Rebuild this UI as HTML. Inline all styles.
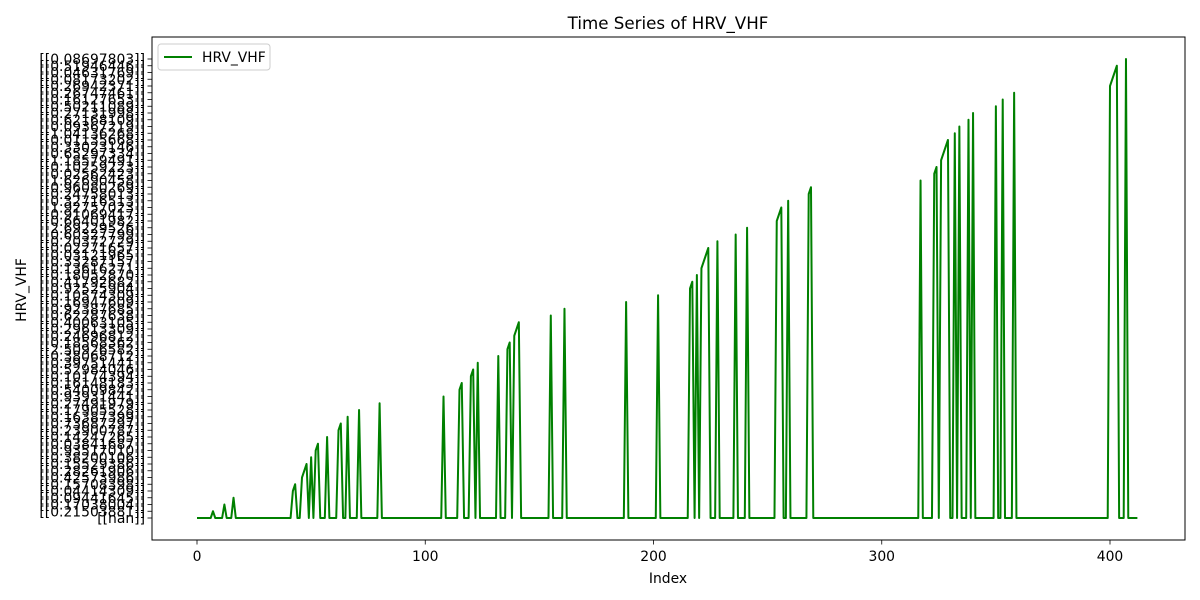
<!DOCTYPE html>
<html><head><meta charset="utf-8"><style>
html,body{margin:0;padding:0;background:#fff}
svg{display:block;font-family:"DejaVu Sans","Liberation Sans",sans-serif}
</style></head><body>
<svg id="chart" width="1200" height="600" viewBox="0 0 1200 600">
<rect x="0" y="0" width="1200" height="600" fill="#fff"/>
<text x="668" y="29" font-size="16.7" text-anchor="middle">Time Series of HRV_VHF</text>
<text x="668" y="583" font-size="13.9" text-anchor="middle">Index</text>
<text x="26" y="290" font-size="13.9" text-anchor="middle" transform="rotate(-90 26 290)">HRV_VHF</text>
<g id="yticks"></g>
<g id="xticks"></g>
<g id="series"></g>
<rect x="152" y="37" width="1033" height="503" fill="none" stroke="#000" stroke-width="1"/>
<g>
<rect x="158" y="44" width="112" height="26" rx="3" fill="#fff" stroke="#ccc"/>
<line x1="164" y1="57" x2="192" y2="57" stroke="#008000" stroke-width="2"/>
<text x="202" y="62" font-size="13.9">HRV_VHF</text>
</g>
</svg>
<script>
// indices where the series is non-NaN (in order; each is a new category level)
const validIndices = [7,12,16,42,43,46,47,48,50,52,53,57,62,63,66,71,80,108,115,116,120,121,123,132,136,137,139,140,141,155,161,188,202,216,217,219,221,222,223,224,228,236,241,254,255,256,259,268,269,317,323,324,326,327,328,329,332,334,338,340,350,353,358,400,401,402,403,407];
const seriesLength = 413;
// category labels from top (last-seen) to bottom (first-seen)
const labelsTopDown = ["0.08697803","0.51946446","0.04631769","0.08173202","0.26942371","0.26747461","0.16127653","0.50211089","0.27131998","0.62168109","0.09367219","1.04136268","0.01135668","0.33023146","0.65297334","1.18579491","0.10259223","0.02562423","1.62690458","0.96080269","0.24758013","0.32716513","1.92757023","0.91069417","0.66401982","2.69229526","0.60327799","0.20372729","0.02271657","0.03121965","0.33287157","0.13616271","0.18052870","0.41792682","0.92525904","0.10574309","0.16947609","0.92387685","0.62287638","0.40063105","0.29613309","0.24696812","0.18568362","2.50926582","0.38068712","0.39751441","0.52984046","0.10174394","0.16148183","0.54009842","0.93931441","0.27491979","0.17905528","0.16387399","0.73687297","0.23900787","0.14247265","0.03841687","0.93517010","0.38200106","0.15529386","0.28261906","0.42573986","0.15708398","0.04414309","0.09441645","0.17038004","0.21503881"];
const xTicks = [0,100,200,300,400];

const NS="http://www.w3.org/2000/svg";
const nLevels = validIndices.length;
const xs = i => 197 + i*(1110-197)/400;
const ys = l => 518 - l*(518-59)/nLevels;
function mk(tag, attrs, parent){const e=document.createElementNS(NS,tag);for(const k in attrs)e.setAttribute(k,attrs[k]);parent.appendChild(e);return e;}

const yg=document.getElementById('yticks');
const catLabels = ["[[nan]]"].concat(labelsTopDown.slice(0,nLevels).reverse().map(s=>"[["+s+"]]"));
for(let l=0;l<=nLevels;l++){
  const y=ys(l);
  const t=mk('line',{x1:147.5,x2:152,y1:y,y2:y,stroke:'#000','stroke-width':0.8},yg);
  
  
  const tx=mk('text',{x:145,y:y+5,'font-size':13.9,'text-anchor':'end'},yg);
  tx.textContent=catLabels[l]||"";
  
  
}
const xg=document.getElementById('xticks');
xTicks.forEach(v=>{
  const x=xs(v);
  const t=mk('line',{x1:x,x2:x,y1:540,y2:544.5,stroke:'#000','stroke-width':0.8},xg);
  
  
  const tx=mk('text',{x:x,y:561,'font-size':13.9,'text-anchor':'middle'},xg);
  tx.textContent=String(v);
  
  
});
const levelAt={};validIndices.forEach((idx,k)=>levelAt[idx]=k+1);
let pts=[];
for(let i=0;i<seriesLength;i++){pts.push(xs(i).toFixed(2)+","+ys(levelAt[i]||0).toFixed(2));}
const line=mk('polyline',{points:pts.join(" "),fill:'none',stroke:'#008000','stroke-width':2,'stroke-linejoin':'round'},document.getElementById('series'));


</script>
</body></html>
